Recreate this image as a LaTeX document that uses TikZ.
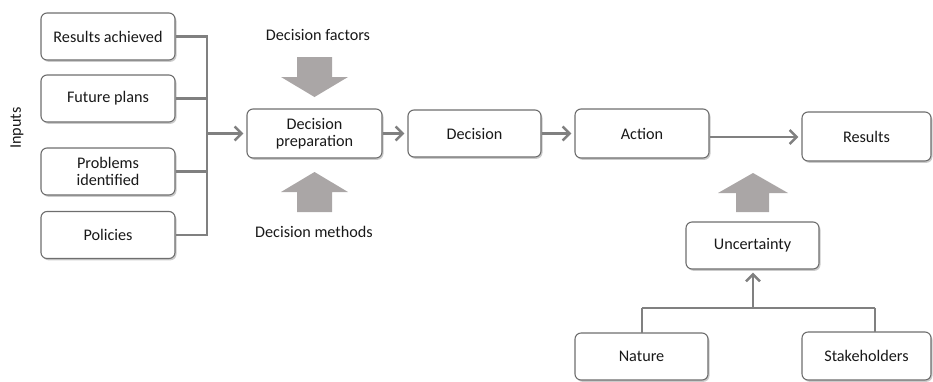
\documentclass[tikz,border=0pt]{standalone}
\usepackage{fontspec}
\setmainfont{Carlito}
\usetikzlibrary{arrows.meta,shadows}
\definecolor{linegray}{RGB}{128,128,128}
\definecolor{boxline}{RGB}{110,110,110}
\definecolor{bigarrow}{RGB}{170,166,166}
\definecolor{txt}{RGB}{25,25,25}
\tikzset{
  box/.style={draw=boxline, line width=1.1pt, rounded corners=6pt, fill=white,
    align=center, text=txt, font=\fontsize{16.2}{17.5}\selectfont, inner sep=2pt,
    drop shadow={shadow xshift=1.5pt, shadow yshift=-1.8pt, fill=black!45, opacity=0.45}},
  conn/.style={draw=linegray, line width=2.8pt},
  arr/.style={conn, -{Straight Barb[length=7pt,width=14pt,line width=2.5pt]}, shorten >=3pt},
  lbl/.style={text=txt, font=\fontsize{16.2}{17.5}\selectfont},
  fat/.style={fill=bigarrow, draw=none}
}
\begin{document}
\begin{tikzpicture}[x=1pt,y=-1pt]
\useasboundingbox (0,0) rectangle (933,381);

% input boxes
\node[box, minimum width=134pt, minimum height=47pt] (ra) at (108,36.5) {Results achieved};
\node[box, minimum width=134pt, minimum height=47pt] (fp) at (108,98.5) {Future plans};
\node[box, minimum width=134pt, minimum height=47pt] (pi) at (108,171.5) {Problems\\identified};
\node[box, minimum width=134pt, minimum height=47pt] (po) at (108,235) {Policies};
\node[lbl, rotate=90] (inputs) at (17,128) {Inputs};

% main chain
\node[box, minimum width=135pt, minimum height=49pt] (dp) at (314.5,133.5) {Decision\\preparation};
\node[box, minimum width=133pt, minimum height=47pt] (dc) at (474.5,133.5) {Decision};
\node[box, minimum width=134pt, minimum height=49pt] (ac) at (642,133.5) {Action};
\node[box, minimum width=129pt, minimum height=49pt] (rs) at (866.5,136.5) {Results};

% uncertainty branch
\node[box, minimum width=133pt, minimum height=47pt] (un) at (752.5,245.5) {Uncertainty};
\node[box, minimum width=133pt, minimum height=47pt] (na) at (641.5,356.5) {Nature};
\node[box, minimum width=129pt, minimum height=48pt] (sh) at (866.5,356) {Stakeholders};

% labels around the preparation step
\node[lbl] (df) at (318,35) {Decision factors};
\node[lbl] (dm) at (314,232) {Decision methods};

% input bus
\coordinate (bt) at (207,36.5);
\coordinate (bb) at (207,235);
\draw[conn] (ra.east) -- (bt) -- (bb) -- (po.east);
\draw[conn] (fp.east) -- (fp.east -| bt);
\draw[conn] (pi.east) -- (pi.east -| bt);
\draw[arr] (bt |- dp.west) -- (dp.west);

% chain connectors
\draw[arr] (dp.east) -- (dc.west);
\draw[arr] (dc.east) -- (ac.west);
\draw[arr] (ac.east |- 0,137) -- (rs.west |- 0,137);

% sources of uncertainty
\coordinate (jn) at (753,308);
\draw[conn] (642,308) -- (875,308);
\draw[conn] (642,308) -- (642,333);
\draw[conn] (875,308) -- (875,332);
\draw[arr] (jn) -- (un.south -| jn);

% broad arrows
\fill[fat] (297,57) -- (332,57) -- (332,77) -- (348,77) -- (314.5,97) -- (281,77) -- (297,77) -- cycle;
\fill[fat] (297,212) -- (332,212) -- (332,192) -- (348,192) -- (314.5,172) -- (281,192) -- (297,192) -- cycle;
\fill[fat] (736,212) -- (769,212) -- (769,193) -- (788,193) -- (753,173) -- (718,193) -- (736,193) -- cycle;
\end{tikzpicture}
\end{document}
